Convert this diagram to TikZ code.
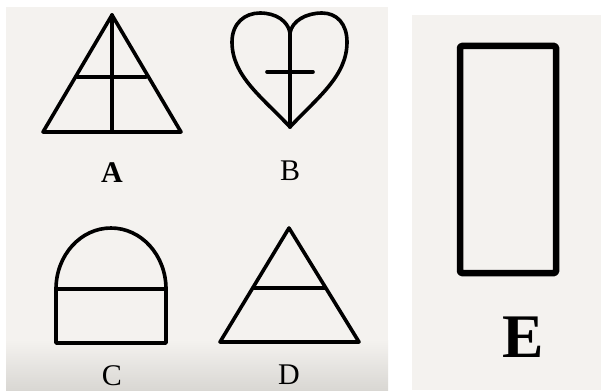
\documentclass[tikz,border=0pt]{standalone}
\usepackage{fontspec}
\setmainfont{Liberation Serif}
\definecolor{paper}{HTML}{F4F2EF}
\definecolor{papershade}{HTML}{D9D7D3}
\tikzset{
  figline/.style={draw=black, line width=3.6pt, line cap=round, line join=round},
  letter/.style={inner sep=0pt, anchor=base, font=\fontsize{30}{32}\selectfont}
}

\begin{document}
\begin{tikzpicture}[x=1pt, y=-1pt]
  \useasboundingbox (0,0) rectangle (601,390);
  % Two paper panels.
  \fill[white] (0,0) rectangle (601,390);
  \fill[paper] (6,7) rectangle (388,342);
  \shade[top color=paper, bottom color=papershade] (6,340) rectangle (388,390);
  \fill[paper] (412,15) rectangle (601,390);
  % A: triangle with a cross.
  \draw[figline] (112,15) -- (43,132) -- (181,132) -- cycle;
  \draw[figline] (112,15) -- (112,132);
  \draw[figline] (77,77) -- (146,77);
  \node[letter, font=\fontsize{30}{32}\selectfont\bfseries] (labA) at (112,182) {A};
  % B: heart with a cross.
  \draw[figline] (290,127) .. controls (262,97) and (232,76) .. (232,42)
    .. controls (232,23) and (245,13) .. (260,13)
    .. controls (276,13) and (288,21) .. (290,33)
    .. controls (292,21) and (306,13) .. (322,13)
    .. controls (337,13) and (347,24) .. (347,42)
    .. controls (347,76) and (318,97) .. (290,127) -- cycle;
  \draw[figline] (290,33) -- (290,127);
  \draw[figline] (267,72) -- (313,72);
  \node[letter] (labB) at (290,180) {B};
  % C: arch over a box.
  \draw[figline] (56,289) arc[start angle=180, end angle=0, x radius=55pt, y radius=61pt]
    -- (166,343) -- (56,343) -- cycle;
  \draw[figline] (56,289) -- (166,289);
  \node[letter] (labC) at (112,385) {C};
  % D: triangle with one bar.
  \draw[figline] (289,228) -- (220,342) -- (359,342) -- cycle;
  \draw[figline] (254,288) -- (325,288);
  \node[letter] (labD) at (289,384) {D};
  % E: tall box.
  \draw[figline, line width=6.5pt, rounded corners=1.5pt] (460,46) rectangle (556,273);
  \node[letter, font=\fontsize{62}{64}\selectfont\bfseries] (labE) at (523,357) {E};
\end{tikzpicture}
\end{document}
